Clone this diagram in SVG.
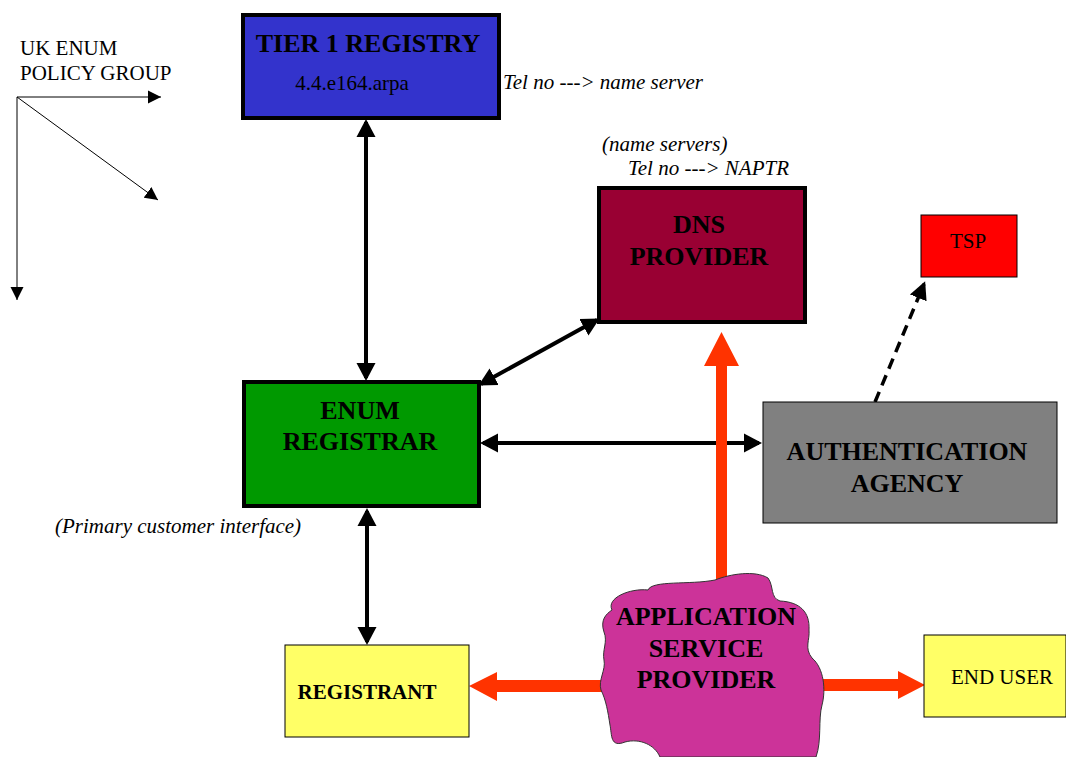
<svg xmlns="http://www.w3.org/2000/svg" width="1066" height="757" viewBox="0 0 1066 757">
  <style>
    .t { font-family: "Liberation Serif", "Times New Roman", serif; fill: #000; }
    .b { font-weight: bold; font-size: 26px; }
    .r { font-size: 21px; }
    .i { font-style: italic; font-size: 21px; }
    .thick { stroke: #000; stroke-width: 4; }
    .thin { stroke: #000; stroke-width: 1; }
    .link { stroke: #000; stroke-width: 4; fill: none; }
    .pol { stroke: #000; stroke-width: 1; fill: none; }
    .red { fill: #ff3300; }
  </style>
  <defs>
    <marker id="ah" markerUnits="userSpaceOnUse" markerWidth="19" markerHeight="20" refX="15" refY="10" orient="auto-start-reverse">
      <path d="M0,0.5 L18,10 L0,19.5 Z" fill="#000"/>
    </marker>
    <marker id="sh" markerUnits="userSpaceOnUse" markerWidth="14" markerHeight="14" refX="13" refY="7" orient="auto">
      <path d="M0,0.5 L13,7 L0,13.5 Z" fill="#000"/>
    </marker>
    <marker id="dh" markerUnits="userSpaceOnUse" markerWidth="19" markerHeight="20" refX="15" refY="10" orient="auto">
      <path d="M0,1 L18,10 L0,19 Z" fill="#000"/>
    </marker>
  </defs>

  <rect width="1066" height="757" fill="#fff"/>

  <!-- policy group label with its three fan-out arrows -->
  <g id="policy-group">
    <text class="t" x="20" y="55" style="font-size:21px">UK ENUM</text>
    <text class="t" x="20" y="80" style="font-size:21px">POLICY GROUP</text>
    <line class="pol" x1="17" y1="97" x2="161" y2="97" marker-end="url(#sh)"/>
    <line class="pol" x1="17" y1="97" x2="158" y2="200" marker-end="url(#sh)"/>
    <line class="pol" x1="17" y1="97" x2="17" y2="300" marker-end="url(#sh)"/>
  </g>

  <!-- connectors -->
  <g id="connectors">
    <line class="link" x1="366" y1="122" x2="366" y2="378" marker-start="url(#ah)" marker-end="url(#ah)"/>
    <line class="link" x1="597" y1="320" x2="481" y2="384" marker-start="url(#ah)" marker-end="url(#ah)"/>
    <line class="link" x1="483" y1="443" x2="759" y2="443" marker-start="url(#ah)" marker-end="url(#ah)"/>
    <line class="link" x1="367" y1="511" x2="367" y2="642" marker-start="url(#ah)" marker-end="url(#ah)"/>
    <line x1="875" y1="402" x2="924" y2="284" stroke="#000" stroke-width="3.5" stroke-dasharray="11,7" marker-end="url(#dh)"/>
    <!-- ASP flows -->
    <polygon class="red" points="716,600 716,366 704,366 721.5,332 739,366 727,366 727,600"/>
    <polygon class="red" points="640,680 497,680 497,672 469,686 497,701 497,692 640,692"/>
    <polygon class="red" points="790,679 898,679 898,671 925,685 898,699 898,691 790,691"/>
  </g>

  <g id="tier1-registry">
    <rect class="thick" x="243" y="15" width="256" height="103" fill="#3333cc"/>
    <text class="t b" x="368" y="52" text-anchor="middle">TIER 1 REGISTRY</text>
    <text class="t r" x="352" y="90" text-anchor="middle">4.4.e164.arpa</text>
  </g>
  <text class="t i" x="503" y="89">Tel no ---&gt; name server</text>

  <g id="dns-provider">
    <rect class="thick" x="599" y="188" width="206" height="134" fill="#990033"/>
    <text class="t b" x="699" y="233" text-anchor="middle">DNS</text>
    <text class="t b" x="699" y="265" text-anchor="middle">PROVIDER</text>
  </g>
  <text class="t i" x="602" y="151">(name servers)</text>
  <text class="t i" x="628" y="175">Tel no ---&gt; NAPTR</text>

  <g id="tsp">
    <rect class="thin" x="921" y="215" width="96" height="62" fill="#ff0000"/>
    <text class="t r" x="968" y="248" text-anchor="middle">TSP</text>
  </g>

  <g id="enum-registrar">
    <rect class="thick" x="244" y="382" width="235" height="124" fill="#009900"/>
    <text class="t b" x="360" y="419" text-anchor="middle">ENUM</text>
    <text class="t b" x="360" y="450" text-anchor="middle">REGISTRAR</text>
  </g>
  <text class="t i" x="55" y="533">(Primary customer interface)</text>

  <g id="authentication-agency">
    <rect class="thin" x="763" y="402" width="294" height="121" fill="#808080"/>
    <text class="t b" x="907" y="460" text-anchor="middle">AUTHENTICATION</text>
    <text class="t b" x="907" y="492" text-anchor="middle">AGENCY</text>
  </g>

  <g id="registrant">
    <rect class="thin" x="285" y="645" width="184" height="92" fill="#ffff66"/>
    <text class="t" x="367" y="699" text-anchor="middle" style="font-weight:bold;font-size:21px">REGISTRANT</text>
  </g>

  <g id="end-user">
    <rect class="thin" x="924" y="635" width="142" height="82" fill="#ffff66"/>
    <text class="t r" x="1002" y="684" text-anchor="middle">END USER</text>
  </g>

  <g id="application-service-provider">
    <path d="M612,610 C606,598 630,588 648,590 C652,580 690,585 715,580 C730,574 755,570 768,578 C774,586 770,598 780,601 C800,602 810,612 809,630 C810,640 804,648 812,658 C824,668 826,690 822,705 C818,720 822,740 816,757 L660,757 C655,745 640,738 625,742 C610,748 612,735 610,725 C608,712 606,700 601,690 C598,680 606,670 604,660 C602,650 608,642 604,632 C600,620 606,614 612,610 Z" fill="#cc3399" stroke="#333" stroke-width="1"/>
    <text class="t b" x="706" y="625" text-anchor="middle">APPLICATION</text>
    <text class="t b" x="706" y="657" text-anchor="middle">SERVICE</text>
    <text class="t b" x="706" y="688" text-anchor="middle">PROVIDER</text>
  </g>
</svg>
